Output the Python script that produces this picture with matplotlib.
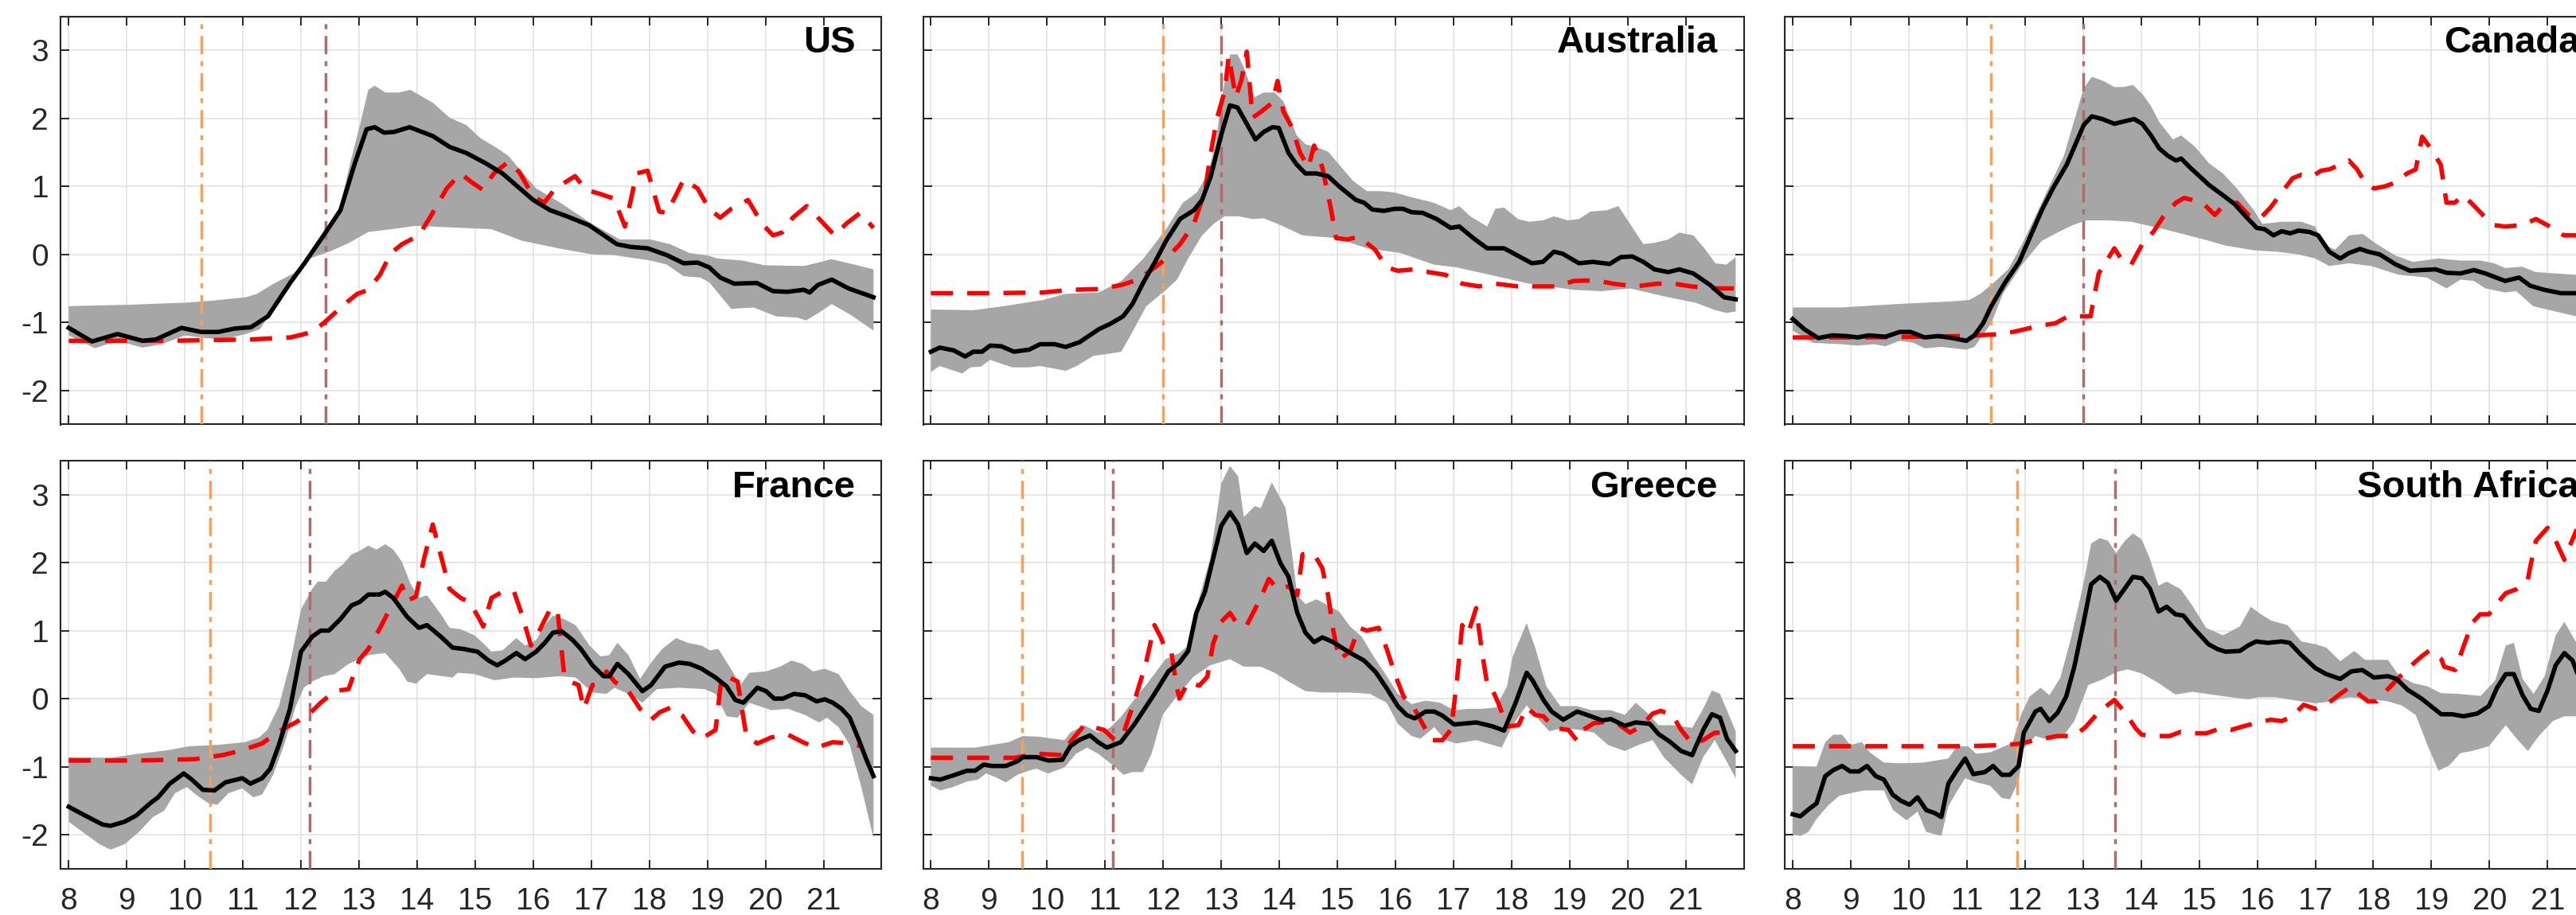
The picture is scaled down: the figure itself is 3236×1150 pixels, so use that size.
import matplotlib
matplotlib.use("Agg")
import matplotlib.pyplot as plt
import numpy as np

plt.rcParams['font.family'] = ['Liberation Sans', 'DejaVu Sans']

# ---------------------------------------------------------------------------
# Data: (hour, value) pairs for each country
#   *_MED   : median estimate (black line)
#   *_UP/LO : upper / lower edge of the uncertainty band (grey)
#   *_RED   : comparison series (red dashed)
#   *_EVT   : two event times (orange and brown dash-dot lines)
# ---------------------------------------------------------------------------
X_TICKS = list(range(8, 22))
Y_TICKS = [-2, -1, 0, 1, 2, 3]
Y_TICK_LABELS = ['-2', '-1', '0', '1', '2', '3']

US_MED = [(8.00, -1.08), (8.40, -1.28), (8.84, -1.17), (9.27, -1.27), (9.50, -1.25), (9.94, -1.08),
          (10.28, -1.14), (10.57, -1.14), (10.86, -1.09), (11.14, -1.07), (11.43, -0.91), (11.82, -0.41),
          (12.06, -0.13), (12.39, 0.28), (12.68, 0.65), (12.92, 1.32), (13.13, 1.84), (13.27, 1.87),
          (13.43, 1.79), (13.60, 1.80), (13.87, 1.87), (14.27, 1.74), (14.56, 1.58), (14.85, 1.49),
          (15.18, 1.34), (15.47, 1.19), (16.00, 0.80), (16.29, 0.65), (16.58, 0.56), (16.96, 0.43),
          (17.44, 0.15), (17.68, 0.11), (17.97, 0.09), (18.30, -0.01), (18.59, -0.13), (18.83, -0.12),
          (19.03, -0.19), (19.22, -0.34), (19.46, -0.43), (19.85, -0.42), (20.13, -0.54), (20.38, -0.55),
          (20.66, -0.52), (20.76, -0.56), (20.90, -0.45), (21.14, -0.37), (21.43, -0.50), (21.86, -0.63)]
US_UP = [(8.00, -0.76), (9.03, -0.74), (10.00, -0.71), (10.47, -0.68), (11.05, -0.63), (11.24, -0.58),
         (11.53, -0.43), (11.87, -0.28), (12.20, -0.02), (12.49, 0.41), (12.68, 0.72), (12.83, 1.28),
         (13.02, 1.92), (13.16, 2.42), (13.27, 2.48), (13.45, 2.38), (13.69, 2.38), (13.88, 2.42),
         (14.27, 2.23), (14.56, 2.01), (14.85, 1.90), (15.09, 1.71), (15.38, 1.56), (15.57, 1.45),
         (16.05, 0.97), (16.43, 0.78), (17.01, 0.45), (17.49, 0.22), (18.02, 0.22), (18.36, 0.15),
         (18.69, 0.02), (19.03, -0.02), (19.17, -0.06), (19.60, -0.09), (19.99, -0.16), (20.66, -0.17),
         (20.86, -0.13), (21.14, -0.07), (21.53, -0.15), (21.86, -0.22)]
US_LO = [(8.00, -1.19), (8.45, -1.38), (8.84, -1.27), (9.27, -1.37), (9.60, -1.32), (10.00, -1.19),
         (10.37, -1.23), (10.66, -1.25), (11.05, -1.17), (11.29, -1.10), (11.53, -0.80), (11.82, -0.37),
         (12.15, -0.06), (12.49, 0.04), (12.83, 0.17), (13.16, 0.33), (13.55, 0.37), (13.98, 0.42),
         (14.51, 0.40), (15.28, 0.37), (15.81, 0.20), (16.43, 0.09), (17.01, 0.00), (17.39, -0.01),
         (18.02, -0.09), (18.30, -0.15), (18.59, -0.32), (18.88, -0.34), (19.03, -0.41), (19.41, -0.80),
         (19.80, -0.78), (20.18, -0.91), (20.55, -0.93), (20.70, -0.97), (20.95, -0.84), (21.14, -0.73),
         (21.47, -0.89), (21.86, -1.12)]
US_RED = [(8.00, -1.27), (9.70, -1.27), (11.14, -1.25), (11.82, -1.22), (12.20, -1.14), (12.39, -1.01),
          (12.78, -0.71), (12.97, -0.58), (13.16, -0.52), (13.36, -0.30), (13.55, 0.02), (13.74, 0.15),
          (14.03, 0.28), (14.22, 0.54), (14.51, 0.97), (14.75, 1.19), (14.94, 1.06), (15.13, 0.95),
          (15.32, 1.19), (15.57, 1.36), (15.76, 1.21), (16.00, 0.85), (16.19, 0.76), (16.38, 0.97),
          (16.72, 1.15), (16.91, 0.95), (17.15, 0.89), (17.39, 0.82), (17.58, 0.41), (17.78, 1.19),
          (17.97, 1.23), (18.17, 0.63), (18.30, 0.61), (18.44, 0.84), (18.59, 1.10), (18.83, 0.97),
          (19.03, 0.67), (19.22, 0.54), (19.41, 0.67), (19.70, 0.80), (19.94, 0.45), (20.13, 0.28),
          (20.28, 0.32), (20.47, 0.54), (20.71, 0.71), (20.95, 0.50), (21.19, 0.28), (21.39, 0.45),
          (21.63, 0.61), (21.86, 0.39)]
US_EVT = (10.29, 12.43)

AU_MED = [(8.00, -1.43), (8.15, -1.37), (8.39, -1.41), (8.59, -1.50), (8.73, -1.43), (8.88, -1.43),
          (9.02, -1.34), (9.21, -1.35), (9.43, -1.43), (9.69, -1.40), (9.88, -1.32), (10.13, -1.32),
          (10.32, -1.36), (10.56, -1.29), (10.89, -1.10), (11.09, -1.02), (11.31, -0.91), (11.47, -0.73),
          (11.66, -0.41), (11.86, -0.11), (12.05, 0.20), (12.29, 0.52), (12.53, 0.65), (12.67, 0.80),
          (12.82, 1.15), (13.01, 1.79), (13.15, 2.19), (13.28, 2.16), (13.44, 1.92), (13.59, 1.69),
          (13.73, 1.80), (13.88, 1.87), (13.99, 1.86), (14.16, 1.49), (14.30, 1.32), (14.45, 1.19),
          (14.64, 1.19), (14.84, 1.15), (15.03, 1.00), (15.32, 0.80), (15.46, 0.76), (15.60, 0.66),
          (15.80, 0.64), (15.99, 0.67), (16.13, 0.67), (16.28, 0.62), (16.47, 0.61), (16.71, 0.52),
          (16.95, 0.39), (17.10, 0.41), (17.34, 0.24), (17.58, 0.09), (17.87, 0.09), (18.11, -0.02),
          (18.35, -0.13), (18.54, -0.11), (18.73, 0.04), (18.88, 0.01), (19.16, -0.13), (19.40, -0.11),
          (19.69, -0.14), (19.88, -0.04), (20.08, -0.03), (20.27, -0.11), (20.46, -0.22), (20.70, -0.26),
          (20.89, -0.22), (21.13, -0.28), (21.42, -0.45), (21.66, -0.63), (21.86, -0.66)]
AU_UP = [(8.00, -0.81), (8.73, -0.82), (9.26, -0.76), (9.93, -0.67), (10.32, -0.58), (10.89, -0.56),
         (11.28, -0.39), (11.66, -0.06), (12.05, 0.37), (12.34, 0.76), (12.58, 0.91), (12.77, 1.19),
         (12.91, 1.66), (13.01, 2.31), (13.15, 2.94), (13.28, 2.94), (13.39, 2.75), (13.57, 2.31),
         (13.73, 2.38), (13.92, 2.38), (14.07, 2.25), (14.30, 1.75), (14.45, 1.62), (14.64, 1.58),
         (14.84, 1.51), (15.03, 1.32), (15.27, 1.08), (15.51, 0.93), (15.75, 0.93), (15.99, 0.91),
         (16.28, 0.84), (16.66, 0.76), (16.95, 0.65), (17.10, 0.71), (17.29, 0.56), (17.58, 0.41),
         (17.72, 0.67), (17.87, 0.69), (18.11, 0.52), (18.30, 0.48), (18.54, 0.50), (18.73, 0.56),
         (18.97, 0.50), (19.16, 0.52), (19.36, 0.63), (19.65, 0.65), (19.84, 0.71), (20.04, 0.45),
         (20.27, 0.15), (20.46, 0.17), (20.70, 0.22), (20.89, 0.32), (21.13, 0.28), (21.32, 0.09),
         (21.51, -0.13), (21.70, -0.15), (21.86, -0.04)]
AU_LO = [(8.00, -1.73), (8.15, -1.64), (8.54, -1.75), (8.68, -1.66), (8.86, -1.65), (9.02, -1.55),
         (9.40, -1.66), (9.69, -1.66), (9.88, -1.64), (10.32, -1.71), (10.51, -1.64), (10.80, -1.49),
         (10.99, -1.47), (11.28, -1.43), (11.47, -1.14), (11.71, -0.76), (12.05, -0.52), (12.24, -0.37),
         (12.43, -0.06), (12.67, 0.28), (12.87, 0.45), (13.06, 0.56), (13.30, 0.56), (13.54, 0.52),
         (13.73, 0.53), (13.97, 0.45), (14.40, 0.28), (14.98, 0.24), (15.51, 0.09), (16.09, 0.02),
         (16.66, -0.15), (17.05, -0.19), (17.63, -0.30), (18.30, -0.43), (19.07, -0.52), (19.55, -0.54),
         (20.04, -0.50), (20.70, -0.63), (21.17, -0.71), (21.51, -0.82), (21.70, -0.86), (21.86, -0.84)]
AU_RED = [(8.00, -0.57), (8.97, -0.57), (9.93, -0.56), (10.41, -0.52), (10.89, -0.51), (11.28, -0.45),
          (11.57, -0.37), (11.86, -0.19), (12.05, -0.06), (12.29, 0.15), (12.53, 0.45), (12.72, 0.93),
          (12.82, 1.49), (12.93, 2.01), (13.06, 2.40), (13.13, 2.92), (13.25, 2.31), (13.35, 2.57),
          (13.44, 2.98), (13.54, 2.01), (13.69, 2.10), (13.88, 2.23), (13.97, 2.55), (14.07, 2.10),
          (14.21, 1.88), (14.36, 1.49), (14.50, 1.28), (14.60, 1.60), (14.74, 1.28), (14.88, 0.71),
          (14.98, 0.24), (15.17, 0.22), (15.37, 0.26), (15.65, 0.07), (15.85, -0.19), (16.04, -0.24),
          (16.33, -0.22), (16.57, -0.26), (16.86, -0.30), (17.15, -0.43), (17.44, -0.47), (17.72, -0.43),
          (18.11, -0.47), (18.49, -0.47), (18.78, -0.47), (19.07, -0.39), (19.45, -0.38), (19.74, -0.43),
          (20.13, -0.47), (20.51, -0.43), (20.80, -0.43), (21.09, -0.47), (21.47, -0.50), (21.86, -0.50)]
AU_EVT = (12.00, 13.00)

CA_MED = [(8.00, -0.95), (8.20, -1.10), (8.44, -1.23), (8.68, -1.19), (8.92, -1.20), (9.12, -1.22),
          (9.31, -1.19), (9.60, -1.21), (9.84, -1.14), (10.03, -1.14), (10.27, -1.22), (10.51, -1.20),
          (10.75, -1.23), (10.99, -1.27), (11.13, -1.19), (11.28, -1.01), (11.42, -0.76), (11.66, -0.41),
          (11.90, -0.11), (12.10, 0.28), (12.29, 0.65), (12.48, 0.97), (12.72, 1.32), (12.87, 1.62),
          (13.01, 1.90), (13.15, 2.03), (13.33, 1.99), (13.54, 1.92), (13.73, 1.96), (13.88, 1.99),
          (14.02, 1.92), (14.17, 1.75), (14.31, 1.56), (14.46, 1.45), (14.60, 1.38), (14.69, 1.41),
          (14.84, 1.28), (14.98, 1.17), (15.17, 1.02), (15.41, 0.87), (15.61, 0.74), (15.80, 0.56),
          (15.99, 0.39), (16.13, 0.37), (16.28, 0.28), (16.42, 0.34), (16.57, 0.31), (16.71, 0.35),
          (16.90, 0.33), (17.05, 0.28), (17.24, 0.04), (17.43, -0.06), (17.58, 0.02), (17.77, 0.08),
          (17.91, 0.04), (18.11, 0.00), (18.39, -0.15), (18.63, -0.24), (18.83, -0.23), (19.07, -0.22),
          (19.26, -0.27), (19.50, -0.28), (19.73, -0.23), (19.93, -0.28), (20.27, -0.39), (20.51, -0.34),
          (20.70, -0.46), (20.94, -0.52), (21.23, -0.57), (21.50, -0.57), (21.86, -0.56)]
CA_UP = [(8.00, -0.78), (8.83, -0.78), (9.79, -0.73), (10.75, -0.69), (11.04, -0.67), (11.23, -0.58),
         (11.47, -0.41), (11.71, -0.22), (11.95, 0.15), (12.19, 0.58), (12.43, 1.02), (12.67, 1.45),
         (12.87, 2.03), (13.01, 2.44), (13.15, 2.61), (13.35, 2.55), (13.54, 2.46), (13.69, 2.46),
         (13.86, 2.49), (14.02, 2.36), (14.17, 2.18), (14.31, 1.95), (14.55, 1.69), (14.69, 1.75),
         (14.93, 1.58), (15.17, 1.34), (15.41, 1.19), (15.65, 0.97), (15.94, 0.65), (16.09, 0.45),
         (16.42, 0.48), (16.76, 0.48), (17.00, 0.41), (17.14, 0.15), (17.34, 0.07), (17.58, 0.28),
         (17.82, 0.30), (18.06, 0.15), (18.39, -0.02), (18.68, -0.11), (19.12, -0.06), (19.50, -0.09),
         (19.84, -0.09), (20.08, -0.13), (20.27, -0.20), (20.56, -0.18), (20.80, -0.26), (21.14, -0.28),
         (21.50, -0.30), (21.86, -0.31)]
CA_LO = [(8.00, -1.12), (8.35, -1.30), (8.83, -1.32), (9.12, -1.34), (9.40, -1.32), (9.60, -1.35),
         (9.84, -1.27), (10.08, -1.30), (10.27, -1.38), (10.56, -1.36), (10.99, -1.40), (11.13, -1.36),
         (11.42, -1.01), (11.62, -0.58), (11.95, -0.15), (12.29, 0.20), (12.58, 0.33), (12.82, 0.43),
         (13.06, 0.50), (13.44, 0.50), (13.83, 0.48), (14.40, 0.37), (15.08, 0.22), (15.46, 0.13),
         (15.94, 0.06), (16.33, 0.04), (16.71, 0.00), (17.00, -0.06), (17.24, -0.17), (17.58, -0.13),
         (17.96, -0.17), (18.44, -0.30), (18.92, -0.34), (19.26, -0.50), (19.50, -0.37), (19.73, -0.39),
         (19.93, -0.50), (20.27, -0.56), (20.46, -0.54), (20.75, -0.76), (21.14, -0.84), (21.50, -0.91),
         (21.86, -0.95)]
CA_RED = [(8.00, -1.22), (9.31, -1.22), (10.94, -1.20), (11.62, -1.17), (11.90, -1.12), (12.19, -1.06),
          (12.53, -1.01), (12.72, -0.92), (12.82, -0.91), (13.01, -0.91), (13.13, -0.91), (13.20, -0.58),
          (13.27, -0.28), (13.54, 0.09), (13.69, -0.11), (13.83, -0.15), (14.02, 0.15), (14.21, 0.33),
          (14.40, 0.58), (14.60, 0.76), (14.74, 0.83), (14.88, 0.80), (15.08, 0.74), (15.27, 0.58),
          (15.41, 0.71), (15.65, 0.76), (15.85, 0.58), (16.04, 0.52), (16.23, 0.69), (16.42, 0.91),
          (16.61, 1.12), (16.76, 1.17), (16.95, 1.15), (17.10, 1.23), (17.24, 1.25), (17.43, 1.32),
          (17.58, 1.38), (17.72, 1.25), (17.87, 1.04), (18.01, 0.97), (18.20, 1.00), (18.39, 1.06),
          (18.58, 1.19), (18.73, 1.25), (18.84, 1.73), (18.97, 1.58), (19.16, 1.32), (19.26, 0.76),
          (19.40, 0.76), (19.55, 0.87), (19.74, 0.71), (19.93, 0.54), (20.08, 0.43), (20.27, 0.41),
          (20.56, 0.43), (20.80, 0.52), (21.04, 0.41), (21.28, 0.28), (21.50, 0.28), (21.86, 0.22)]
CA_EVT = (11.42, 13.00)

FR_MED = [(8.00, -1.59), (8.24, -1.70), (8.58, -1.85), (8.72, -1.87), (8.96, -1.81), (9.16, -1.72),
          (9.40, -1.54), (9.54, -1.45), (9.74, -1.25), (9.98, -1.10), (10.12, -1.19), (10.31, -1.34),
          (10.51, -1.35), (10.70, -1.23), (10.99, -1.17), (11.13, -1.25), (11.33, -1.17), (11.47, -1.03),
          (11.62, -0.68), (11.81, -0.15), (12.00, 0.69), (12.19, 0.91), (12.34, 1.00), (12.48, 1.00),
          (12.68, 1.17), (12.87, 1.37), (13.01, 1.42), (13.16, 1.53), (13.35, 1.53), (13.45, 1.57),
          (13.59, 1.48), (13.83, 1.20), (14.03, 1.04), (14.17, 1.08), (14.41, 0.91), (14.61, 0.75),
          (14.80, 0.73), (15.04, 0.69), (15.23, 0.56), (15.38, 0.49), (15.52, 0.56), (15.71, 0.67),
          (15.86, 0.58), (16.05, 0.69), (16.20, 0.82), (16.34, 0.97), (16.49, 0.99), (16.68, 0.86),
          (16.82, 0.73), (17.02, 0.49), (17.21, 0.33), (17.31, 0.33), (17.45, 0.51), (17.64, 0.36),
          (17.88, 0.11), (18.03, 0.20), (18.27, 0.47), (18.51, 0.53), (18.70, 0.51), (18.90, 0.44),
          (19.14, 0.31), (19.33, 0.18), (19.48, -0.02), (19.62, -0.06), (19.86, 0.16), (20.01, 0.11),
          (20.15, 0.00), (20.30, 0.00), (20.49, 0.07), (20.68, 0.05), (20.88, -0.04), (21.02, -0.01),
          (21.16, -0.06), (21.31, -0.15), (21.45, -0.28), (21.60, -0.59), (21.74, -0.90), (21.86, -1.14)]
FR_UP = [(8.00, -0.86), (8.72, -0.87), (9.21, -0.81), (9.69, -0.76), (10.07, -0.70), (10.56, -0.68),
         (11.04, -0.64), (11.28, -0.57), (11.42, -0.46), (11.62, -0.11), (11.81, 0.51), (12.00, 1.31),
         (12.19, 1.61), (12.29, 1.72), (12.43, 1.72), (12.58, 1.88), (12.72, 1.97), (12.87, 2.12),
         (13.01, 2.17), (13.16, 2.25), (13.30, 2.19), (13.45, 2.27), (13.59, 2.19), (13.74, 2.01),
         (13.88, 1.70), (14.03, 1.48), (14.17, 1.52), (14.41, 1.24), (14.56, 1.04), (14.75, 1.02),
         (14.99, 0.93), (15.18, 0.78), (15.28, 0.69), (15.47, 0.71), (15.71, 0.89), (15.86, 0.78),
         (16.05, 0.86), (16.20, 1.08), (16.34, 1.22), (16.53, 1.17), (16.73, 1.08), (16.97, 0.78),
         (17.16, 0.62), (17.31, 0.64), (17.45, 0.82), (17.64, 0.64), (17.84, 0.29), (18.03, 0.53),
         (18.22, 0.73), (18.46, 0.89), (18.66, 0.82), (18.90, 0.78), (19.04, 0.71), (19.19, 0.73),
         (19.38, 0.47), (19.57, 0.20), (19.72, 0.38), (20.01, 0.40), (20.25, 0.47), (20.45, 0.56),
         (20.64, 0.51), (20.82, 0.40), (21.02, 0.44), (21.26, 0.36), (21.45, 0.11), (21.65, -0.11),
         (21.86, -0.24)]
FR_LO = [(8.00, -1.81), (8.24, -1.96), (8.53, -2.14), (8.72, -2.22), (8.96, -2.14), (9.21, -1.96),
         (9.45, -1.74), (9.64, -1.65), (9.83, -1.39), (10.03, -1.30), (10.22, -1.43), (10.41, -1.54),
         (10.56, -1.56), (10.75, -1.39), (10.99, -1.32), (11.18, -1.45), (11.33, -1.41), (11.52, -1.12),
         (11.71, -0.68), (11.91, -0.11), (12.05, 0.16), (12.19, 0.25), (12.39, 0.33), (12.58, 0.36),
         (12.82, 0.51), (13.16, 0.64), (13.45, 0.67), (13.69, 0.44), (13.83, 0.25), (13.98, 0.22),
         (14.17, 0.36), (14.61, 0.31), (14.70, 0.38), (14.99, 0.36), (15.33, 0.27), (15.67, 0.31),
         (16.05, 0.30), (16.44, 0.33), (16.73, 0.31), (17.02, 0.09), (17.26, 0.07), (17.40, 0.16),
         (17.69, 0.05), (17.88, -0.06), (18.13, 0.14), (18.51, 0.16), (18.95, 0.14), (19.14, 0.07),
         (19.33, -0.26), (19.52, -0.28), (19.72, -0.06), (20.10, -0.17), (20.39, -0.15), (20.68, -0.24),
         (20.92, -0.35), (21.06, -0.28), (21.26, -0.42), (21.45, -0.68), (21.65, -1.30), (21.86, -2.05)]
FR_RED = [(8.00, -0.91), (9.21, -0.91), (10.17, -0.89), (10.65, -0.83), (10.94, -0.77), (11.33, -0.66),
          (11.62, -0.48), (11.91, -0.35), (12.15, -0.22), (12.34, -0.06), (12.58, 0.11), (12.82, 0.14),
          (12.92, 0.38), (13.01, 0.58), (13.16, 0.73), (13.35, 1.02), (13.55, 1.35), (13.74, 1.66),
          (13.83, 1.44), (13.98, 1.50), (14.12, 2.06), (14.27, 2.56), (14.41, 2.10), (14.56, 1.61),
          (14.75, 1.48), (14.90, 1.42), (15.04, 1.22), (15.14, 1.06), (15.28, 1.48), (15.47, 1.57),
          (15.67, 1.57), (15.81, 1.22), (15.96, 0.78), (16.10, 0.99), (16.30, 1.33), (16.42, 1.28),
          (16.53, 0.38), (16.63, 0.25), (16.78, 0.20), (16.87, -0.15), (17.02, 0.20), (17.16, 0.22),
          (17.26, 0.40), (17.40, 0.25), (17.64, 0.11), (17.84, -0.15), (18.03, -0.31), (18.18, -0.20),
          (18.37, -0.13), (18.56, -0.24), (18.75, -0.48), (18.90, -0.59), (19.14, -0.46), (19.24, 0.29),
          (19.38, 0.31), (19.52, 0.25), (19.67, -0.55), (19.86, -0.66), (20.10, -0.57), (20.39, -0.53),
          (20.64, -0.64), (20.88, -0.72), (21.16, -0.64), (21.45, -0.66), (21.65, -0.70)]
FR_EVT = (10.43, 12.15)

GR_MED = [(8.00, -1.17), (8.16, -1.19), (8.38, -1.13), (8.62, -1.06), (8.76, -1.06), (8.91, -0.97),
          (9.05, -0.99), (9.29, -0.99), (9.49, -0.92), (9.58, -0.86), (9.82, -0.86), (10.02, -0.91),
          (10.26, -0.90), (10.40, -0.70), (10.55, -0.61), (10.74, -0.54), (10.88, -0.64), (11.03, -0.72),
          (11.27, -0.64), (11.51, -0.37), (11.85, 0.07), (12.09, 0.40), (12.28, 0.53), (12.43, 0.70),
          (12.57, 1.26), (12.72, 1.57), (12.86, 2.06), (13.00, 2.54), (13.15, 2.74), (13.29, 2.56),
          (13.44, 2.14), (13.58, 2.28), (13.73, 2.17), (13.87, 2.32), (14.02, 1.99), (14.16, 1.79),
          (14.31, 1.26), (14.45, 0.97), (14.60, 0.83), (14.74, 0.90), (14.93, 0.83), (15.13, 0.72),
          (15.27, 0.65), (15.46, 0.56), (15.66, 0.39), (15.85, 0.15), (16.04, -0.11), (16.19, -0.24),
          (16.33, -0.29), (16.52, -0.19), (16.67, -0.19), (16.81, -0.25), (17.01, -0.38), (17.39, -0.35),
          (17.54, -0.38), (17.68, -0.41), (17.87, -0.47), (18.07, -0.06), (18.26, 0.38), (18.36, 0.27),
          (18.55, -0.02), (18.69, -0.19), (18.89, -0.31), (19.13, -0.19), (19.37, -0.26), (19.56, -0.32),
          (19.71, -0.30), (19.95, -0.40), (20.14, -0.35), (20.38, -0.37), (20.53, -0.52), (20.72, -0.63),
          (20.92, -0.77), (21.11, -0.83), (21.30, -0.46), (21.45, -0.23), (21.59, -0.28), (21.71, -0.59),
          (21.86, -0.77)]
GR_UP = [(8.00, -0.72), (8.76, -0.72), (9.05, -0.68), (9.34, -0.64), (9.58, -0.55), (9.87, -0.56),
         (10.11, -0.59), (10.30, -0.61), (10.40, -0.50), (10.64, -0.39), (10.88, -0.50), (11.08, -0.43),
         (11.27, -0.27), (11.46, -0.06), (11.75, 0.25), (12.04, 0.58), (12.28, 0.67), (12.43, 0.78),
         (12.62, 1.48), (12.81, 2.06), (13.00, 3.16), (13.15, 3.42), (13.29, 3.27), (13.39, 2.67),
         (13.58, 2.83), (13.68, 2.80), (13.87, 3.18), (14.11, 2.80), (14.21, 2.19), (14.31, 1.52),
         (14.45, 1.39), (14.64, 1.46), (14.84, 1.37), (15.03, 1.28), (15.22, 1.06), (15.42, 0.91),
         (15.61, 0.64), (15.85, 0.33), (16.04, 0.07), (16.28, -0.08), (16.52, -0.03), (16.77, -0.06),
         (17.01, -0.17), (17.25, -0.15), (17.49, -0.15), (17.73, -0.13), (17.92, 0.18), (18.02, 0.62),
         (18.26, 1.11), (18.41, 0.74), (18.60, 0.18), (18.84, -0.11), (19.13, -0.11), (19.37, -0.17),
         (19.71, -0.17), (19.95, -0.24), (20.14, -0.06), (20.34, -0.21), (20.53, -0.39), (20.77, -0.39),
         (21.11, -0.43), (21.30, -0.15), (21.45, 0.12), (21.59, 0.07), (21.86, -0.48)]
GR_LO = [(8.00, -1.28), (8.16, -1.35), (8.38, -1.30), (8.62, -1.22), (8.81, -1.19), (8.95, -1.10),
         (9.10, -1.15), (9.29, -1.23), (9.49, -1.12), (9.68, -1.06), (9.82, -1.03), (10.02, -1.10),
         (10.30, -1.01), (10.50, -0.81), (10.69, -0.72), (10.88, -0.81), (11.12, -0.97), (11.32, -1.12),
         (11.46, -1.08), (11.65, -1.08), (11.80, -0.81), (11.99, -0.24), (12.23, 0.03), (12.52, 0.32),
         (12.81, 0.49), (13.15, 0.58), (13.39, 0.47), (13.68, 0.47), (13.92, 0.38), (14.16, 0.25),
         (14.45, 0.11), (14.74, 0.09), (15.22, 0.09), (15.56, 0.07), (15.85, -0.06), (16.04, -0.37),
         (16.28, -0.55), (16.43, -0.59), (16.67, -0.42), (16.86, -0.61), (17.05, -0.66), (17.39, -0.61),
         (17.59, -0.66), (17.83, -0.72), (18.02, -0.39), (18.26, -0.10), (18.46, -0.30), (18.65, -0.48),
         (18.89, -0.43), (19.18, -0.46), (19.42, -0.50), (19.66, -0.68), (19.95, -0.77), (20.19, -0.68),
         (20.43, -0.61), (20.62, -0.86), (20.92, -1.12), (21.11, -1.26), (21.30, -0.86), (21.50, -0.61),
         (21.69, -0.90), (21.86, -1.17)]
GR_RED = [(8.00, -0.87), (9.44, -0.87), (9.82, -0.81), (10.26, -0.83), (10.40, -0.64), (10.64, -0.39),
          (10.84, -0.43), (10.98, -0.46), (11.17, -0.61), (11.32, -0.50), (11.51, -0.02), (11.70, 0.51),
          (11.85, 1.08), (11.96, 0.90), (12.04, 0.72), (12.14, 0.69), (12.23, 0.19), (12.28, 0.00),
          (12.43, 0.24), (12.62, 0.19), (12.76, 0.32), (12.86, 0.81), (13.00, 1.13), (13.15, 1.26),
          (13.29, 1.08), (13.44, 1.08), (13.68, 1.48), (13.82, 1.76), (13.97, 1.61), (14.16, 1.65),
          (14.31, 1.52), (14.40, 2.12), (14.60, 2.12), (14.74, 1.92), (14.84, 1.52), (14.93, 1.00),
          (15.03, 0.58), (15.22, 0.69), (15.37, 1.04), (15.51, 1.00), (15.71, 1.04), (15.85, 0.73),
          (16.00, 0.34), (16.14, 0.03), (16.33, -0.15), (16.48, -0.39), (16.62, -0.61), (16.81, -0.61),
          (16.96, -0.45), (17.06, 0.27), (17.15, 1.08), (17.25, 0.95), (17.39, 1.33), (17.49, 0.69),
          (17.59, 0.16), (17.68, 0.11), (17.78, -0.08), (17.92, -0.41), (18.12, -0.39), (18.26, -0.13),
          (18.41, -0.24), (18.55, -0.26), (18.74, -0.43), (18.98, -0.46), (19.13, -0.62), (19.23, -0.46),
          (19.42, -0.36), (19.66, -0.34), (19.85, -0.38), (20.04, -0.50), (20.24, -0.40), (20.43, -0.22),
          (20.57, -0.18), (20.77, -0.24), (20.92, -0.46), (21.11, -0.66), (21.30, -0.61), (21.50, -0.50),
          (21.64, -0.50)]
GR_EVT = (9.57, 11.14)

ZA_MED = [(8.00, -1.70), (8.13, -1.73), (8.27, -1.63), (8.41, -1.54), (8.56, -1.14), (8.70, -1.05),
          (8.85, -0.99), (8.99, -1.07), (9.14, -1.07), (9.28, -0.99), (9.43, -1.14), (9.57, -1.19),
          (9.72, -1.41), (9.86, -1.50), (10.01, -1.56), (10.15, -1.45), (10.30, -1.64), (10.44, -1.68),
          (10.56, -1.74), (10.68, -1.25), (10.83, -1.05), (10.97, -0.88), (11.11, -1.11), (11.31, -1.08),
          (11.45, -0.99), (11.60, -1.12), (11.74, -1.12), (11.89, -0.99), (11.98, -0.50), (12.18, -0.19),
          (12.27, -0.15), (12.42, -0.33), (12.56, -0.21), (12.71, 0.03), (12.85, 0.47), (13.00, 1.08),
          (13.14, 1.68), (13.29, 1.79), (13.43, 1.70), (13.57, 1.44), (13.72, 1.62), (13.86, 1.79),
          (14.01, 1.77), (14.15, 1.62), (14.30, 1.28), (14.44, 1.35), (14.59, 1.24), (14.73, 1.22),
          (14.88, 1.06), (15.02, 0.93), (15.16, 0.80), (15.31, 0.73), (15.45, 0.69), (15.70, 0.70),
          (15.84, 0.78), (15.98, 0.84), (16.18, 0.82), (16.42, 0.84), (16.56, 0.82), (16.76, 0.64),
          (17.00, 0.45), (17.19, 0.36), (17.43, 0.29), (17.62, 0.40), (17.81, 0.42), (18.01, 0.31),
          (18.25, 0.33), (18.40, 0.29), (18.59, 0.13), (18.83, 0.00), (19.02, -0.13), (19.17, -0.23),
          (19.36, -0.23), (19.55, -0.26), (19.79, -0.22), (19.99, -0.11), (20.13, 0.16), (20.28, 0.36),
          (20.42, 0.36), (20.57, 0.05), (20.71, -0.15), (20.85, -0.18), (21.00, 0.12), (21.14, 0.49),
          (21.29, 0.67), (21.43, 0.56), (21.51, 0.38), (21.68, 0.12), (21.86, 0.02)]
ZA_UP = [(8.00, -0.99), (8.41, -1.00), (8.56, -0.64), (8.70, -0.53), (8.85, -0.53), (8.99, -0.68),
         (9.19, -0.64), (9.33, -0.79), (9.57, -0.94), (9.86, -0.95), (10.25, -0.94), (10.54, -0.90),
         (10.68, -0.88), (10.83, -0.70), (11.02, -0.70), (11.16, -0.81), (11.40, -0.79), (11.65, -0.70),
         (11.79, -0.64), (11.93, -0.24), (12.08, 0.03), (12.27, 0.16), (12.42, 0.05), (12.61, 0.31),
         (12.80, 0.91), (13.00, 1.66), (13.14, 2.28), (13.29, 2.36), (13.43, 2.32), (13.57, 2.14),
         (13.72, 2.32), (13.86, 2.43), (14.01, 2.34), (14.15, 2.06), (14.30, 1.66), (14.44, 1.72),
         (14.68, 1.61), (14.88, 1.37), (15.12, 1.04), (15.41, 0.93), (15.70, 1.06), (15.89, 1.35),
         (16.03, 1.26), (16.23, 1.15), (16.52, 1.08), (16.76, 0.84), (17.00, 0.80), (17.19, 0.75),
         (17.43, 0.55), (17.67, 0.70), (17.86, 0.57), (18.06, 0.57), (18.25, 0.57), (18.44, 0.34),
         (18.68, 0.23), (18.93, 0.18), (19.17, 0.08), (19.46, 0.07), (19.85, 0.04), (20.10, 0.27),
         (20.28, 0.78), (20.42, 0.82), (20.57, 0.29), (20.76, 0.07), (20.95, 0.33), (21.14, 0.93),
         (21.29, 1.13), (21.51, 0.80), (21.70, 0.55), (21.86, 0.45)]
ZA_LO = [(8.00, -2.00), (8.13, -2.02), (8.27, -1.96), (8.41, -1.77), (8.61, -1.57), (8.80, -1.43),
         (8.99, -1.39), (9.23, -1.35), (9.57, -1.35), (9.72, -1.63), (9.96, -1.79), (10.15, -1.66),
         (10.30, -1.96), (10.56, -2.02), (10.68, -1.58), (10.83, -1.36), (10.97, -1.17), (11.16, -1.23),
         (11.40, -1.28), (11.60, -1.46), (11.74, -1.48), (11.89, -1.21), (11.98, -0.73), (12.18, -0.55),
         (12.42, -0.61), (12.66, -0.55), (12.85, -0.33), (13.09, 0.20), (13.33, 0.28), (13.57, 0.39),
         (13.77, 0.43), (14.01, 0.37), (14.30, 0.23), (14.59, 0.06), (14.88, 0.10), (15.21, 0.06),
         (15.55, 0.02), (15.84, -0.01), (16.03, 0.02), (16.32, 0.02), (16.61, -0.02), (17.00, -0.07),
         (17.29, -0.04), (17.58, 0.02), (17.86, 0.00), (18.25, -0.04), (18.49, -0.10), (18.73, -0.24),
         (18.93, -0.68), (19.12, -1.06), (19.31, -0.98), (19.50, -0.80), (19.70, -0.77), (19.99, -0.70),
         (20.28, -0.39), (20.47, -0.59), (20.66, -0.77), (20.85, -0.55), (21.09, -0.33), (21.29, -0.26),
         (21.51, -0.26), (21.70, -0.40), (21.86, -0.45)]
ZA_RED = [(8.00, -0.70), (9.76, -0.70), (11.02, -0.70), (11.69, -0.68), (11.93, -0.66), (12.18, -0.61),
          (12.56, -0.55), (12.85, -0.55), (13.04, -0.42), (13.29, -0.18), (13.54, -0.02), (13.72, -0.20),
          (13.91, -0.44), (14.01, -0.53), (14.20, -0.55), (14.49, -0.55), (14.68, -0.49), (14.88, -0.51),
          (15.12, -0.51), (15.36, -0.44), (15.55, -0.46), (15.79, -0.40), (16.03, -0.35), (16.23, -0.31),
          (16.42, -0.33), (16.61, -0.26), (16.80, -0.09), (17.00, -0.15), (17.19, -0.09), (17.43, 0.07),
          (17.62, 0.18), (17.77, 0.05), (17.91, -0.04), (18.06, -0.04), (18.25, 0.14), (18.44, 0.31),
          (18.63, 0.47), (18.83, 0.62), (18.97, 0.71), (19.17, 0.58), (19.22, 0.47), (19.41, 0.42),
          (19.55, 0.76), (19.70, 1.11), (19.84, 1.24), (19.99, 1.24), (20.13, 1.40), (20.28, 1.55),
          (20.47, 1.61), (20.66, 1.75), (20.71, 1.97), (20.80, 2.32), (21.00, 2.51), (21.14, 2.32),
          (21.29, 2.04), (21.38, 2.24), (21.51, 2.50), (21.70, 2.45), (21.86, 2.30)]
ZA_EVT = (11.86, 13.55)

PANELS = [
    ("US", US_MED, US_UP, US_LO, US_RED, US_EVT),
    ("Australia", AU_MED, AU_UP, AU_LO, AU_RED, AU_EVT),
    ("Canada", CA_MED, CA_UP, CA_LO, CA_RED, CA_EVT),
    ("France", FR_MED, FR_UP, FR_LO, FR_RED, FR_EVT),
    ("Greece", GR_MED, GR_UP, GR_LO, GR_RED, GR_EVT),
    ("South Africa", ZA_MED, ZA_UP, ZA_LO, ZA_RED, ZA_EVT),
]

# ---------------------------------------------------------------------------
# Styling
# ---------------------------------------------------------------------------
AXIS_COLOR = '#262626'
GRID_COLOR = '#E1E1E1'
BAND_COLOR = '#A6A6A6'
RED = '#FF0000'
ORANGE = '#F7A05A'
BROWN = '#B06B6B'

W, H = 3237, 1150
fig = plt.figure(figsize=(W / 100, H / 100), dpi=100)

col_left = [76.5, 1159.6, 2242.2]       # left spine x (px)
row_top = [20.5, 578.8]                 # top spine y (px)
ax_w, ax_h = 1031.0, 513.0


def xy(points):
    arr = np.asarray(points, dtype=float)
    return arr[:, 0], arr[:, 1]


for i, (name, med, up, lo, red, evt) in enumerate(PANELS):
    r, c = divmod(i, 3)
    rect = [col_left[c] / W, 1 - (row_top[r] + ax_h) / H, ax_w / W, ax_h / H]
    ax = fig.add_axes(rect)

    # uncertainty band as a closed polygon (upper edge then lower edge reversed)
    ux, uy = xy(up)
    lx, ly = xy(lo)
    ax.fill(np.concatenate([ux, lx[::-1]]), np.concatenate([uy, ly[::-1]]),
            color=BAND_COLOR, lw=0, zorder=2)

    # event markers
    ax.axvline(evt[0], color=ORANGE, lw=2.5, ls=(0, (6.6, 2.5, 1.8, 2.5)), zorder=3)
    ax.axvline(evt[1], color=BROWN, lw=2.5, ls=(0, (6.6, 2.5, 1.8, 2.5)), zorder=3)

    rx, ry = xy(red)
    ax.plot(rx, ry, color=RED, lw=4.0, ls=(0, (5.0, 3.2)), dash_capstyle='butt', zorder=4)

    mx, my = xy(med)
    ax.plot(mx, my, color='black', lw=4.0, solid_joinstyle='round', zorder=5)

    ax.set_xlim(7.865, 22.0)
    ax.set_ylim(-2.5, 3.5)
    ax.set_xticks(X_TICKS)
    ax.set_yticks(Y_TICKS)
    ax.grid(True, color=GRID_COLOR, lw=1.2, zorder=0)
    ax.set_axisbelow(True)

    ax.tick_params(axis='both', which='major', direction='in', length=8, width=1.4,
                   color=AXIS_COLOR, labelcolor=AXIS_COLOR, labelsize=28,
                   top=True, right=True)
    ax.tick_params(axis='x', pad=17)
    ax.tick_params(axis='y', pad=11)

    if r == 1:
        ax.set_xticklabels([str(t) for t in X_TICKS])
    else:
        ax.set_xticklabels([])
    if c == 0:
        ax.set_yticklabels(Y_TICK_LABELS)
    else:
        ax.set_yticklabels([])

    for s in ax.spines.values():
        s.set_color(AXIS_COLOR)
        s.set_linewidth(1.5)

    ax.text(1 - 33 / ax_w, 1 - 12 / ax_h, name, transform=ax.transAxes,
            ha='right', va='top', fontsize=34, fontweight='bold', color='black', zorder=6)

fig.savefig('out.png', dpi=100)
